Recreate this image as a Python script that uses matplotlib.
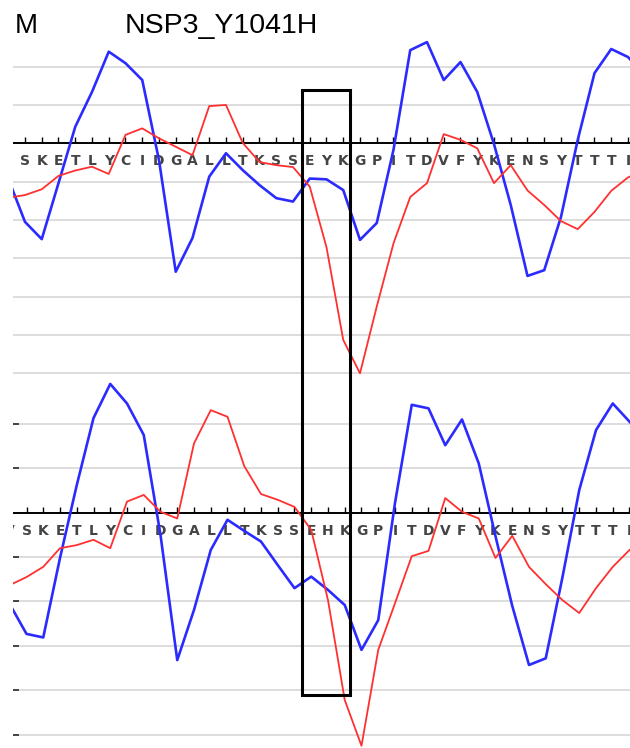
import matplotlib
matplotlib.use("Agg")
import matplotlib.pyplot as plt
import numpy as np
from matplotlib.patches import Rectangle
from matplotlib.transforms import offset_copy

# ---------------- data ----------------
title_left = "M"
title_main = "NSP3_Y1041H"

# residue positions (index -1 and 37 are partly outside the visible window)
positions = list(range(-1, 38))
letters_top = list("SKETLYCIDGALLTKSSEYKGPITDVFYKENSYTTTI")      # from index 0
letters_bot = list("V" + "SKETLYCIDGALLTKSSEHKGPITDVFYKENSYTTTI")  # from index -1

blue_top = [-0.92, -2.05, -2.50, -1.04, 0.43, 1.34, 2.39, 2.09, 1.65, -0.44,
            -3.35, -2.47, -0.87, -0.26, -0.70, -1.09, -1.43, -1.52, -0.92, -0.94,
            -1.22, -2.52, -2.08, -0.17, 2.43, 2.64, 1.65, 2.12, 1.34, -0.02,
            -1.61, -3.46, -3.31, -1.92, 0.09, 1.83, 2.46, 2.25, 1.78]
red_top = [-1.42, -1.35, -1.20, -0.85, -0.71, -0.61, -0.80, 0.22, 0.39, 0.13,
           -0.09, -0.31, 0.97, 1.00, 0.01, -0.49, -0.57, -0.62, -1.13, -2.71,
           -5.13, -6.00, -4.26, -2.61, -1.40, -1.04, 0.24, 0.09, -0.13, -1.04,
           -0.57, -1.23, -1.61, -2.03, -2.24, -1.79, -1.24, -0.89, -0.70]
blue_bot = [-2.06, -2.73, -2.81, -1.02, 0.62, 2.13, 2.90, 2.46, 1.75, -0.50,
            -3.32, -2.19, -0.84, -0.16, -0.41, -0.65, -1.18, -1.70, -1.44, -1.74,
            -2.08, -3.09, -2.42, 0.22, 2.43, 2.35, 1.52, 2.10, 1.11, -0.53,
            -2.10, -3.43, -3.28, -1.45, 0.51, 1.86, 2.46, 2.05, 1.64]
red_bot = [-1.63, -1.45, -1.22, -0.80, -0.73, -0.61, -0.80, 0.25, 0.40, 0.02,
           -0.13, 1.56, 2.31, 2.16, 1.05, 0.42, 0.29, 0.13, -0.39, -1.97,
           -4.22, -5.25, -3.09, -2.04, -0.98, -0.86, 0.33, 0.02, -0.13, -1.02,
           -0.52, -1.22, -1.61, -1.97, -2.26, -1.70, -1.22, -0.84, -0.62]

grid_top = [2, 1, -1, -2, -3, -4, -5, -6]
grid_bot = [2, 1, -1, -2, -3, -4, -5]

box_x = (16.52, 19.42)   # around E-Y/H-K
box_y_top = 1.4          # in top-panel units
box_y_bot = -4.1         # in bottom-panel units

# ---------------- layout ----------------
W, H = 630, 748
fig = plt.figure(figsize=(W / 100, H / 100), dpi=100)
fig.patch.set_facecolor("white")


def px_axes(left, top, right, bottom):
    return [left / W, 1 - bottom / H, (right - left) / W, (bottom - top) / H]


ax_top = fig.add_axes(px_axes(13, 28.3, 630, 379.05))
ax_bot = fig.add_axes(px_axes(13, 379.5, 630, 748))

xl = (-0.716, 36.12)
BLUE = "#2b2bff"
RED = "#ff3030"


def setup(ax, xlim, ylim, grid, blue, red, letters, letter_start, letter_off,
          left_dashes):
    ax.set_xlim(*xlim)
    ax.set_ylim(*ylim)
    for s in ax.spines.values():
        s.set_visible(False)
    ax.set_xticks([])
    if left_dashes:
        ax.set_yticks(grid)
        ax.tick_params(axis="y", direction="in", length=4.5, width=1.4,
                       color="#444444", labelleft=False, pad=0)
    else:
        ax.set_yticks([])
    for g in grid:
        ax.axhline(g, color="#dadada", lw=1.3, zorder=0)
    ax.axhline(0, color="black", lw=1.4, zorder=3)
    ax.plot(positions, np.zeros(len(positions)), ls="none", marker=2, ms=4,
            mew=1.0, color="black", zorder=3)
    ax.plot(positions, blue, color=BLUE, lw=1.9, zorder=4)
    ax.plot(positions, red, color=RED, lw=1.3, zorder=5)
    trans = offset_copy(ax.transData, fig=fig, y=-letter_off, units="points")
    for k, ch in enumerate(letters):
        ax.text(letter_start + k, 0, ch, transform=trans, ha="center", va="center",
                fontsize=10, fontweight="bold", color="#444444",
                family="DejaVu Sans", clip_on=True, zorder=2)


setup(ax_top, xl, (-6.15, 3), grid_top, blue_top, red_top, letters_top, 0, 12.5, False)
setup(ax_bot, (xl[0] - 0.09, xl[1] - 0.09), (-5.3, 3), grid_bot, blue_bot, red_bot,
      letters_bot, -1, 13.0, True)

# highlight box spanning both panels
inv = fig.transFigure.inverted()
p1 = inv.transform(ax_top.transData.transform((box_x[0], box_y_top)))
p2 = inv.transform(ax_top.transData.transform((box_x[1], 0)))
p3 = inv.transform(ax_bot.transData.transform((box_x[0], box_y_bot)))
rect = Rectangle((p1[0], p3[1]), p2[0] - p1[0], p1[1] - p3[1],
                 transform=fig.transFigure, fill=False, edgecolor="black",
                 lw=2.2, zorder=10)
fig.add_artist(rect)

# titles
fig.text(15 / W, 1 - 33.3 / H, title_left, fontsize=20, family="Liberation Sans",
         va="baseline", ha="left")
fig.text(125 / W, 1 - 33.3 / H, title_main, fontsize=20.5, family="Liberation Sans",
         va="baseline", ha="left")

fig.savefig("out.png", dpi=100)
